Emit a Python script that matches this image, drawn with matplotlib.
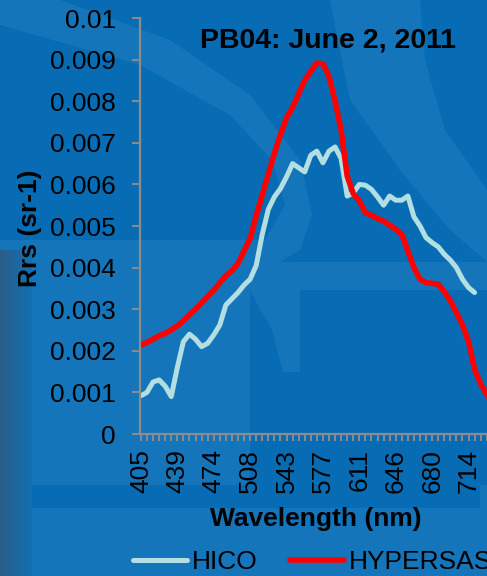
import matplotlib
matplotlib.use("Agg")
import matplotlib.pyplot as plt
import numpy as np
from matplotlib.patches import Polygon
from matplotlib.colors import LinearSegmentedColormap

plt.rcParams['font.family'] = ['Liberation Sans', 'DejaVu Sans']

# ---- data -------------------------------------------------------------
wavelengths = [405, 411, 416, 422, 428, 434, 439, 445, 451, 456, 462, 468, 474, 479,
               485, 491, 497, 502, 508, 514, 519, 525, 531, 537, 543, 548, 554, 560,
               565, 571, 577, 583, 588, 594, 600, 605, 611, 617, 623, 628, 634, 640,
               646, 651, 657, 663, 668, 674, 680, 686, 691, 697, 703, 709, 714, 720,
               726, 731, 737, 743, 749, 754]

hico = [0.00092, 0.00100, 0.00125, 0.00130, 0.00115, 0.00090, 0.00160, 0.00222,
        0.00240, 0.00228, 0.00210, 0.00218, 0.00238, 0.00262, 0.00310, 0.00325,
        0.00340, 0.00358, 0.00372, 0.00405, 0.00480, 0.00540, 0.00570, 0.00590,
        0.00618, 0.00650, 0.00640, 0.00630, 0.00670, 0.00680, 0.00652, 0.00680,
        0.00690, 0.00662, 0.00572, 0.00580, 0.00600, 0.00598, 0.00588, 0.00570,
        0.00550, 0.00572, 0.00562, 0.00562, 0.00572, 0.00522, 0.00500, 0.00472,
        0.00460, 0.00450, 0.00432, 0.00418, 0.00400, 0.00372, 0.00352, 0.00340]

hypersas = [0.00214, 0.00220, 0.00228, 0.00236, 0.00242, 0.00250, 0.00260, 0.00272,
            0.00286, 0.00300, 0.00315, 0.00330, 0.00346, 0.00363, 0.00380, 0.00392,
            0.00410, 0.00440, 0.00470, 0.00525, 0.00575, 0.00625, 0.00675, 0.00720,
            0.00760, 0.00785, 0.00818, 0.00850, 0.00872, 0.00892, 0.00890, 0.00860,
            0.00800, 0.00730, 0.00620, 0.00578, 0.00560, 0.00532, 0.00526, 0.00518,
            0.00512, 0.00502, 0.00492, 0.00480, 0.00440, 0.00400, 0.00372, 0.00364,
            0.00362, 0.00360, 0.00342, 0.00320, 0.00292, 0.00262, 0.00222, 0.00155,
            0.00120, 0.00095, 0.00070]

series_names = ["HICO", "HYPERSAS"]
title = "PB04: June 2, 2011"
y_ticks = [0, 0.001, 0.002, 0.003, 0.004, 0.005, 0.006, 0.007, 0.008, 0.009, 0.01]
y_tick_labels = ["0", "0.001", "0.002", "0.003", "0.004", "0.005", "0.006",
                 "0.007", "0.008", "0.009", "0.01"]

# ---- figure -----------------------------------------------------------
W, H = 487, 576
BG = "#086CB4"
LIGHT = "#1475BA"
fig = plt.figure(figsize=(W / 100, H / 100), dpi=100, facecolor=BG)

def px(pts):
    return [(x / W, 1 - y / H) for x, y in pts]

# faint watermark shapes (background decoration)
shapes = [
    # upper bowl band
    [(0, 0), (60, 0), (170, 40), (250, 95), (300, 160), (312, 215), (300, 250),
     (280, 262), (0, 262), (0, 240), (265, 240), (285, 205), (272, 160), (230, 115),
     (140, 65), (0, 25)],
    # light arc on the upper right
    [(330, 0), (420, 0), (425, 60), (445, 130), (487, 190), (487, 262), (450, 230),
     (400, 170), (350, 100)],
    # horizontal band and left block
    [(30, 262), (487, 262), (487, 290), (413, 290), (413, 485), (487, 485),
     (487, 576), (30, 576)],
]
for s in shapes:
    fig.patches.append(Polygon(px(s), closed=True, transform=fig.transFigure,
                               facecolor=LIGHT, edgecolor="none", zorder=-5))
darker = [
    [(250, 290), (413, 290), (413, 485), (250, 485)],
    [(30, 485), (480, 485), (480, 508), (30, 508)],
]
for s in darker:
    fig.patches.append(Polygon(px(s), closed=True, transform=fig.transFigure,
                               facecolor=BG, edgecolor="none", zorder=-4))
legs = [
    [(250, 290), (300, 290), (300, 372), (283, 372), (272, 330), (255, 300)],
    [(233, 413), (250, 413), (250, 485), (233, 485)],
]
for s in legs:
    fig.patches.append(Polygon(px(s), closed=True, transform=fig.transFigure,
                               facecolor=LIGHT, edgecolor="none", zorder=-3))

# dark gradient strip at the left edge
grad = np.linspace(0, 1, 64)[None, :]
gax = fig.add_axes([0, 0, 32 / W, 1 - 250 / H])
cmap = LinearSegmentedColormap.from_list("g", ["#2B5E88", "#1270B2"])
gax.imshow(grad, aspect="auto", cmap=cmap, extent=[0, 1, 0, 1])
gax.axis("off")
gax.set_zorder(1)

ax = fig.add_axes([140 / W, 142 / H, 371 / W, 416 / H])
ax.set_facecolor("none")
ax.set_zorder(5)

x = np.arange(len(wavelengths))
ax.plot(x[:len(hico)], hico, color="#B3DEE2", lw=3.6, solid_capstyle="round",
        solid_joinstyle="round", label=series_names[0])
ax.plot(x[:len(hypersas)], hypersas, color="#FF0000", lw=4.0, solid_capstyle="round",
        solid_joinstyle="round", label=series_names[1])

ax.set_xlim(-0.15, 61)
ax.set_ylim(0, 0.01)

ax.set_xticks(x)
ax.set_xticklabels([str(w) if i % 6 == 0 else "" for i, w in enumerate(wavelengths)],
                   rotation=90, fontsize=19)
ax.set_yticks(y_ticks)
ax.set_yticklabels(y_tick_labels, fontsize=19)

grey = "#8C8C8C"
for side in ["top", "right"]:
    ax.spines[side].set_visible(False)
for side in ["left", "bottom"]:
    ax.spines[side].set_color(grey)
    ax.spines[side].set_linewidth(1.6)
ax.tick_params(axis="x", direction="out", length=5, width=1.4, color=grey, pad=6)
ax.tick_params(axis="y", direction="out", length=5.5, width=1.4, color=grey, pad=12)

fig.text(328 / W, 1 - 40 / H, title, fontsize=20.5, fontweight="bold",
         ha="center", va="center", zorder=6)
fig.text(316 / W, 1 - 519 / H, "Wavelength (nm)", fontsize=19, fontweight="bold",
         ha="center", va="center", zorder=6)
fig.text(30 / W, 1 - 228 / H, "Rrs (sr-1)", fontsize=19, fontweight="bold",
         ha="center", va="center", rotation=90, zorder=6)

leg = fig.legend(loc="center left", bbox_to_anchor=(133 / W, 1 - 562 / H), ncol=2,
                 frameon=False, fontsize=19, handlelength=2.05, handletextpad=0.2,
                 columnspacing=1.2, borderpad=0, borderaxespad=0)
leg.set_zorder(6)

fig.savefig("out.png", dpi=100, facecolor=BG)
